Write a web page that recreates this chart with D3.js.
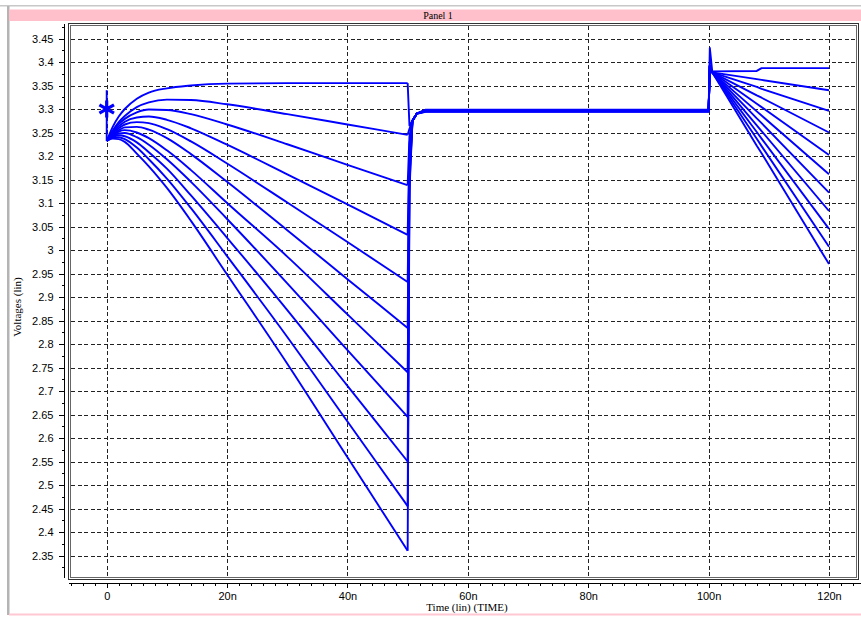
<!DOCTYPE html>
<html>
<head>
<meta charset="utf-8">
<script src="https://cdn.jsdelivr.net/npm/d3@7"></script>
<style>
  body { margin: 0; background: #fff; }
  svg { display: block; font-family: "Liberation Serif", "DejaVu Serif", serif; }
  .grid line { stroke: #222; stroke-width: 1; stroke-dasharray: 4,2.5; shape-rendering: crispEdges; }
  .axis text { font-size: 11px; fill: #000; }
  .axis line { stroke: #000; shape-rendering: crispEdges; }
  .axis path { display: none; }
</style>
</head>
<body>
<svg id="chart"></svg>
<script>
// sweep times (ns), shared by every curve
var times = [0, 1, 2, 3, 5, 7, 10, 14, 20, 30, 40, 50, 50.3, 50.8, 51.5, 53, 100, 100.2, 100.6, 108, 108.8, 120];

var curve1  = [3.232, 3.262, 3.284, 3.300, 3.322, 3.335, 3.344, 3.350, 3.354, 3.355, 3.355, 3.355, 3.265, 3.275, 3.290, 3.296, 3.296, 3.430, 3.380, 3.381, 3.387, 3.387];
var curve2  = [3.232, 3.254, 3.272, 3.285, 3.304, 3.314, 3.320, 3.319, 3.310, 3.289, 3.267, 3.245, 3.258, 3.275, 3.290, 3.2985, 3.2985, 3.392, 3.378, 3.3635, 3.3619, 3.340];
var curve3  = [3.232, 3.252, 3.268, 3.279, 3.293, 3.299, 3.298, 3.289, 3.267, 3.225, 3.181, 3.138, 3.242, 3.275, 3.290, 3.298, 3.298, 3.392, 3.378, 3.347, 3.343, 3.296];
var curve4  = [3.232, 3.250, 3.263, 3.273, 3.282, 3.284, 3.277, 3.259, 3.224, 3.161, 3.097, 3.032, 3.226, 3.275, 3.290, 3.2975, 3.2975, 3.392, 3.378, 3.329, 3.324, 3.250];
var curve5  = [3.232, 3.248, 3.259, 3.267, 3.272, 3.270, 3.257, 3.231, 3.184, 3.101, 3.017, 2.932, 3.211, 3.275, 3.290, 3.297, 3.297, 3.392, 3.378, 3.311, 3.304, 3.202];
var curve6  = [3.232, 3.246, 3.255, 3.261, 3.262, 3.256, 3.238, 3.204, 3.145, 3.042, 2.938, 2.834, 3.196, 3.275, 3.290, 3.2965, 3.2965, 3.392, 3.378, 3.295, 3.286, 3.161];
var curve7  = [3.232, 3.244, 3.252, 3.255, 3.250, 3.238, 3.212, 3.170, 3.100, 2.986, 2.863, 2.740, 3.182, 3.275, 3.290, 3.296, 3.296, 3.392, 3.378, 3.280, 3.270, 3.122];
var curve8  = [3.232, 3.242, 3.248, 3.249, 3.240, 3.224, 3.193, 3.145, 3.066, 2.929, 2.787, 2.645, 3.168, 3.275, 3.290, 3.2955, 3.2955, 3.392, 3.378, 3.265, 3.253, 3.083];
var curve9  = [3.232, 3.240, 3.244, 3.242, 3.229, 3.208, 3.173, 3.116, 3.026, 2.872, 2.711, 2.550, 3.154, 3.275, 3.290, 3.295, 3.295, 3.392, 3.378, 3.251, 3.237, 3.045];
var curve10 = [3.232, 3.239, 3.240, 3.236, 3.218, 3.193, 3.152, 3.089, 2.987, 2.815, 2.635, 2.455, 3.139, 3.275, 3.290, 3.2945, 3.2945, 3.392, 3.378, 3.2365, 3.221, 3.007];
var curve11 = [3.232, 3.237, 3.236, 3.230, 3.205, 3.178, 3.132, 3.062, 2.948, 2.758, 2.559, 2.360, 3.125, 3.275, 3.290, 3.294, 3.294, 3.392, 3.378, 3.222, 3.206, 2.970];

var sweeps = [curve1, curve2, curve3, curve4, curve5, curve6, curve7, curve8, curve9, curve10, curve11];

// start-up glitch at t = 0 and the probe marker
var spikeValues = [3.232, 3.340];
var markerPoint = { t: 0, v: 3.30 };

var yTickValues = [2.35, 2.4, 2.45, 2.5, 2.55, 2.6, 2.65, 2.7, 2.75, 2.8, 2.85, 2.9, 2.95, 3, 3.05, 3.1, 3.15, 3.2, 3.25, 3.3, 3.35, 3.4, 3.45];
var yTickLabels = ["2.35", "2.4", "2.45", "2.5", "2.55", "2.6", "2.65", "2.7", "2.75", "2.8", "2.85", "2.9", "2.95", "3", "3.05", "3.1", "3.15", "3.2", "3.25", "3.3", "3.35", "3.4", "3.45"];
var xTickValues = [0, 20, 40, 60, 80, 100, 120];
var xTickLabels = ["0", "20n", "40n", "60n", "80n", "100n", "120n"];

var width = 861, height = 618;
var box = { left: 70, top: 25, right: 856, bottom: 577 };

var svg = d3.select("#chart")
            .attr("width", width)
            .attr("height", height);

// panel frame
svg.append("rect")
    .attr("x", 0).attr("y", 5).attr("width", width).attr("height", 1.5)
    .attr("fill", "#c8c8c8");
svg.append("rect")
    .attr("x", 7).attr("y", 6).attr("width", 2.5).attr("height", 609)
    .attr("fill", "#b4b4b4");
svg.append("rect")
    .attr("x", 9).attr("y", 9.5).attr("width", width - 9).attr("height", 11.5)
    .attr("fill", "#ffc0cb");
svg.append("text")
    .attr("x", 438).attr("y", 18.5)
    .attr("text-anchor", "middle")
    .style("font-size", "10px")
    .text("Panel 1");
svg.append("rect")
    .attr("x", 9).attr("y", 613.5).attr("width", width - 9).attr("height", 2)
    .attr("fill", "#ffc8d2");

var xScale = d3.scaleLinear()
               .domain([0, 120])
               .range([106.7, 829]);

var yScale = d3.scaleLinear()
               .domain([2.35, 3.45])
               .range([555.5, 38.5]);

// grid
var grid = svg.append("g").classed("grid", true);
grid.selectAll(".hgrid")
    .data(yTickValues)
  .enter().append("line")
    .attr("x1", box.left + 1)
    .attr("x2", box.right)
    .attr("y1", d => Math.round(yScale(d)) + 0.5)
    .attr("y2", d => Math.round(yScale(d)) + 0.5);
grid.selectAll(".vgrid")
    .data(xTickValues)
  .enter().append("line")
    .attr("y1", box.top + 1)
    .attr("y2", box.bottom)
    .attr("x1", d => Math.round(xScale(d)) + 0.5)
    .attr("x2", d => Math.round(xScale(d)) + 0.5);

// plot border (double line)
svg.append("rect")
    .attr("x", 68.5).attr("y", 23.5)
    .attr("width", 858.5 - 68.5).attr("height", 579.5 - 23.5)
    .attr("fill", "none").attr("stroke", "#333");
svg.append("rect")
    .attr("x", 70.5).attr("y", 25.5)
    .attr("width", 856.5 - 70.5).attr("height", 577.5 - 25.5)
    .attr("fill", "none").attr("stroke", "#666");

// y axis
var yMinor = d3.range(2.325, 3.49, 0.05);
var yAxis = d3.axisLeft(yScale)
              .tickValues(yTickValues)
              .tickFormat((d, i) => yTickLabels[i])
              .tickSize(6)
              .tickSizeOuter(0)
              .tickPadding(5);
svg.append("g")
    .classed("axis", true)
    .attr("transform", "translate(64.5,0)")
    .call(yAxis);
svg.append("g")
    .classed("axis", true)
    .attr("transform", "translate(64.5,0)")
    .call(d3.axisLeft(yScale).tickValues(yMinor).tickFormat("").tickSize(3).tickSizeOuter(0));
svg.append("line")
    .attr("x1", 64.5).attr("x2", 64.5)
    .attr("y1", 24).attr("y2", 578)
    .attr("stroke", "#000");

// x axis
var xMinor = d3.range(-6, 125, 2);
var xAxis = d3.axisBottom(xScale)
              .tickValues(xTickValues)
              .tickFormat((d, i) => xTickLabels[i])
              .tickSize(4)
              .tickSizeOuter(0)
              .tickPadding(5);
svg.append("g")
    .classed("axis", true)
    .attr("transform", "translate(0,583.5)")
    .call(xAxis);
svg.append("g")
    .classed("axis", true)
    .attr("transform", "translate(0,583.5)")
    .call(d3.axisBottom(xScale).tickValues(xMinor).tickFormat("").tickSize(2).tickSizeOuter(0));
svg.append("line")
    .attr("x1", 69).attr("x2", width)
    .attr("y1", 583.5).attr("y2", 583.5)
    .attr("stroke", "#000");

svg.append("text")
    .attr("x", 467).attr("y", 611)
    .attr("text-anchor", "middle")
    .style("font-size", "11px")
    .text("Time (lin) (TIME)");

svg.append("text")
    .attr("transform", "translate(21,307) rotate(-90)")
    .attr("text-anchor", "middle")
    .style("font-size", "11px")
    .text("Voltages (lin)");

// curves: smooth rise/decay up to 50n, then the switching edges
var smooth = d3.line()
               .x(d => xScale(d[0]))
               .y(d => yScale(d[1]))
               .curve(d3.curveMonotoneX);
var sharp = d3.line()
              .x(d => xScale(d[0]))
              .y(d => yScale(d[1]));

var plot = svg.append("g")
              .attr("fill", "none")
              .attr("stroke", "#0000ff")
              .attr("stroke-width", 1.9)
              .attr("stroke-linejoin", "round");

sweeps.forEach(function(values) {
  var pts = times.map((t, i) => [t, values[i]]);
  plot.append("path").attr("d", smooth(pts.slice(0, 12)));
  plot.append("path").attr("d", sharp(pts.slice(11)));
});

plot.append("path")
    .attr("d", sharp(spikeValues.map(v => [0, v])));

svg.append("path")
    .attr("transform", "translate(" + xScale(markerPoint.t) + "," + yScale(markerPoint.v) + ")")
    .attr("d", d3.symbol(d3.symbolAsterisk, 200)())
    .attr("fill", "none")
    .attr("stroke", "#0000ff")
    .attr("stroke-width", 3.2);
</script>
</body>
</html>
